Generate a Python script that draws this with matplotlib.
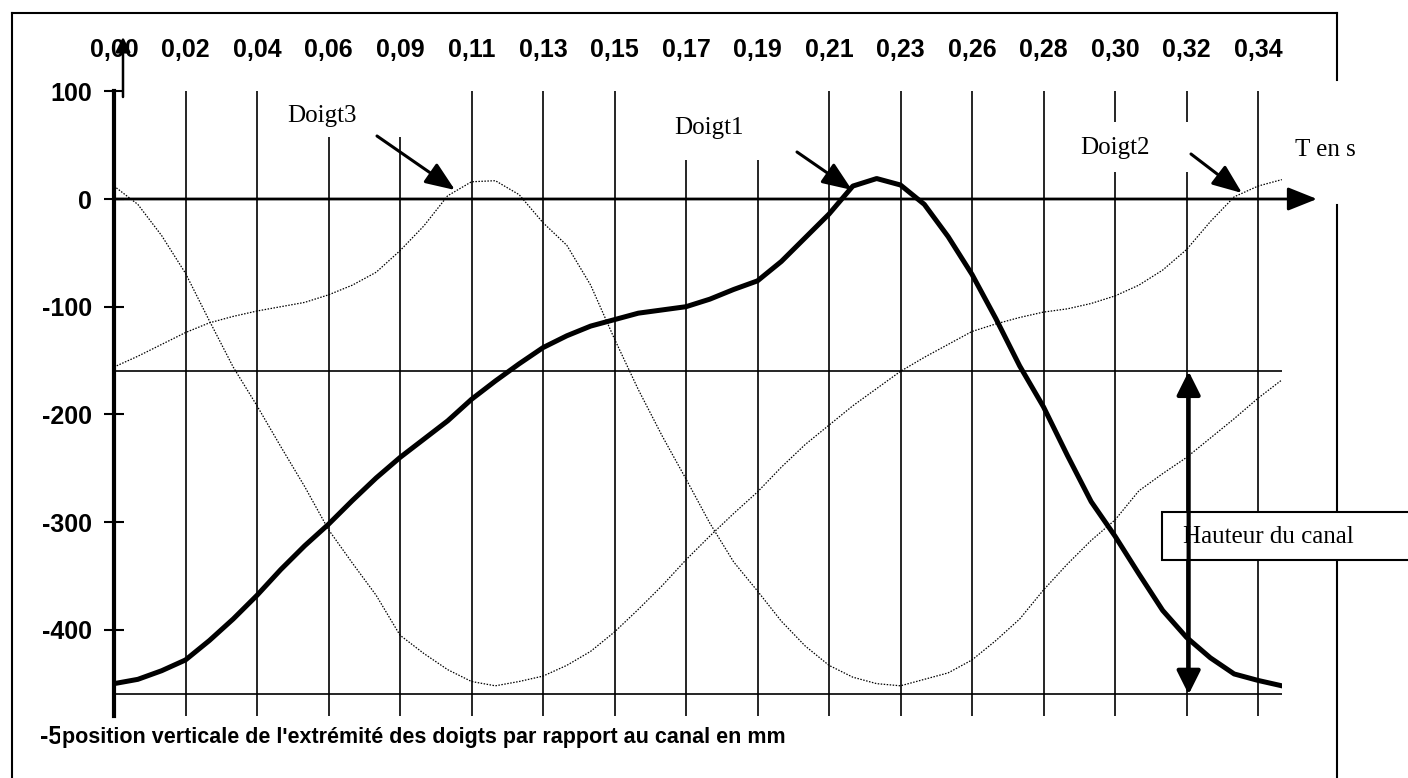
import numpy as np
import matplotlib
matplotlib.use("Agg")
import matplotlib.pyplot as plt
from matplotlib.patches import Rectangle
from matplotlib.transforms import Bbox, TransformedBbox

# =================================================
# Data (mm, one sample every third of a label step)
# =================================================
t_labels = ["0,00", "0,02", "0,04", "0,06", "0,09", "0,11", "0,13", "0,15", "0,17",
            "0,19", "0,21", "0,23", "0,26", "0,28", "0,30", "0,32", "0,34"]

doigt1 = [-450, -446, -438, -428, -410, -390, -368, -344, -322, -302,
          -280, -259, -240, -223, -206, -186, -169, -153, -138, -127,
          -118, -112, -106, -103, -100, -93, -84, -76, -58, -36,
          -14, 12, 19, 13, -5, -35, -70, -111, -155, -193,
          -238, -281, -313, -348, -382, -407, -426, -441, -447, -452]

doigt2 = [12, -5, -34, -69, -113, -156, -192, -230, -267, -307,
          -338, -368, -405, -422, -437, -448, -452, -448, -443, -433,
          -420, -402, -381, -359, -335, -313, -292, -272, -249, -228,
          -210, -192, -176, -160, -147, -135, -123, -116, -110, -105,
          -102, -97, -90, -80, -66, -47, -21, 2, 12, 18]

doigt3 = [-156, -146, -135, -124, -115, -109, -104, -100, -96, -89,
          -80, -68, -48, -25, 3, 16, 17, 4, -22, -43,
          -80, -130, -177, -220, -260, -301, -337, -364, -392, -415,
          -433, -444, -450, -452, -446, -440, -428, -410, -390, -363,
          -339, -317, -298, -271, -255, -240, -222, -204, -185, -168]

y_ticks = [100, 0, -100, -200, -300, -400]
canal_top = -160
canal_bottom = -460

samples_per_label = 3
x = np.arange(len(doigt1)) / samples_per_label

# =================================================
# Geometry (picture pixels, origin top-left)
# =================================================
W, H = 1408, 778
X0, DX = 114, 71.5      # pixel of first category, pixels per label step
Y0, DY = 199, 1.077     # pixel of value 0, pixels per mm
y_min, y_max = -480, 100
x_max = x[-1]


def fp(px, py):
    # picture pixel -> figure pixels
    return (px, H - py)


sans = "Liberation Sans"
serif = "Liberation Serif"

fig = plt.figure(figsize=(W / 100, H / 100), dpi=100)

left = X0 / W
right = (X0 + DX * x_max) / W
top = 1 - (Y0 - DY * y_max) / H
bottom = 1 - (Y0 - DY * y_min) / H
ax = fig.add_axes([left, bottom, right - left, top - bottom])
ax.patch.set_visible(False)

# curves
ax.plot(x, doigt1, color="black", lw=3.6, solid_joinstyle="round", zorder=4)
ax.plot(x, doigt2, color="black", lw=0.9, ls=(0, (1.2, 1.2)), zorder=4)
ax.plot(x, doigt3, color="black", lw=0.9, ls=(0, (1.2, 1.2)), zorder=4)

# canal limits
ax.hlines([canal_top, canal_bottom], 0, x_max, color="black", lw=1.2, zorder=2)

# axes and ticks
ax.set_xlim(0, x_max)
ax.set_ylim(y_min, y_max)
for s in ["top", "right", "bottom"]:
    ax.spines[s].set_visible(False)
ax.spines["left"].set_linewidth(3)

ax.set_xticks(range(len(t_labels)))
ax.set_xticklabels(t_labels, fontfamily=sans, fontweight="bold", fontsize=18)
ax.xaxis.tick_top()
ax.tick_params(axis="x", length=0, pad=21)
ax.grid(axis="x", color="black", lw=1.2)

ax.set_yticks(y_ticks)
ax.set_yticklabels([str(v) for v in y_ticks], fontfamily=sans, fontweight="bold", fontsize=18)
ax.tick_params(axis="y", direction="inout", length=14, width=1.5, pad=9)

# -500 label, cut by the axis title as in the scan
lbl = ax.annotate("-500", xy=fp(90, Y0 + DY * 500), xycoords="figure pixels",
                  ha="right", va="center", fontfamily=sans, fontweight="bold", fontsize=18)
lbl.set_clip_box(TransformedBbox(Bbox([[0, 0], [61 / W, 1]]), fig.transFigure))
lbl.set_clip_on(True)
ax.annotate("position verticale de l'extrémité des doigts par rapport au canal en mm",
            xy=fp(62, 737), xycoords="figure pixels", ha="left", va="center",
            fontfamily=sans, fontweight="bold", fontsize=15.5,
            bbox=dict(boxstyle="square,pad=0.1", fc="white", ec="none"))

# zero axis with arrow, small arrow on top of the y axis
ax.annotate("", xy=fp(1317, Y0), xycoords="figure pixels", xytext=(0, 0), textcoords="data",
            arrowprops=dict(arrowstyle="-|>,head_length=0.5,head_width=0.2", lw=2,
                            color="black", mutation_scale=36, shrinkA=0, shrinkB=0), zorder=3)
ax.annotate("", xy=fp(123, 37), xycoords="figure pixels", xytext=fp(123, 97),
            textcoords="figure pixels",
            arrowprops=dict(arrowstyle="-|>,head_length=0.5,head_width=0.25", lw=1.8,
                            color="black", mutation_scale=18, shrinkA=0, shrinkB=0))

# white patches behind the labels (cut the grid lines like in the scan)
for x0_, y0_, x1_, y1_ in [(290, 85, 440, 137), (655, 85, 790, 160), (1060, 122, 1240, 172)]:
    ax.add_patch(Rectangle((x0_ / W, 1 - y1_ / H), (x1_ - x0_) / W, (y1_ - y0_) / H,
                           transform=fig.transFigure, fc="white", ec="none",
                           clip_on=False, zorder=2.5))

# finger labels and arrows
arrow_style = dict(arrowstyle="-|>,head_length=0.5,head_width=0.2", lw=2.2, color="black",
                   mutation_scale=36, shrinkA=0, shrinkB=0)
labels = [("Doigt3", (322, 116), (377, 136), (455, 190)),
          ("Doigt1", (709, 128), (797, 152), (852, 190)),
          ("Doigt2", (1115, 148), (1191, 154), (1242, 193))]
for name, txt_pos, a_start, a_end in labels:
    ax.annotate(name, xy=fp(*txt_pos), xycoords="figure pixels", ha="center", va="center",
                fontfamily=serif, fontsize=18, zorder=6)
    ax.annotate("", xy=fp(*a_end), xycoords="figure pixels", xytext=fp(*a_start),
                textcoords="figure pixels", arrowprops=arrow_style, zorder=6)

ax.annotate("T en s", xy=fp(1325, 150), xycoords="figure pixels", ha="center", va="center",
            fontfamily=serif, fontsize=18)

# outer frame (opening on the right for the time label)
frame = dict(color="black", lw=1.5, transform=fig.transFigure, clip_on=False, zorder=1)
ax.plot([12 / W, 12 / W], [0, 1 - 13 / H], **frame)
ax.plot([12 / W, 1337 / W], [1 - 13 / H, 1 - 13 / H], **frame)
ax.plot([1337 / W, 1337 / W], [1 - 13 / H, 1 - 80 / H], **frame)
ax.plot([1337 / W, 1337 / W], [1 - 205 / H, 0], **frame)

# canal height box and double arrow
ax.add_patch(Rectangle((1162 / W, 1 - 560 / H), (1430 - 1162) / W, 48 / H,
                       transform=fig.transFigure, fc="white", ec="black", lw=1.5,
                       clip_on=False, zorder=5))
ax.annotate("Hauteur du canal", xy=fp(1183, 537), xycoords="figure pixels", ha="left",
            va="center", fontfamily=serif, fontsize=18, zorder=8)
ax.annotate("", xy=(15.03, canal_top), xytext=(15.03, canal_bottom),
            arrowprops=dict(arrowstyle="<|-|>,head_length=0.4,head_width=0.2", lw=3,
                            color="black", mutation_scale=36, shrinkA=0, shrinkB=0),
            zorder=7)

ax.set_xlim(0, x_max)
ax.set_ylim(y_min, y_max)

fig.savefig("out.png", dpi=100)
